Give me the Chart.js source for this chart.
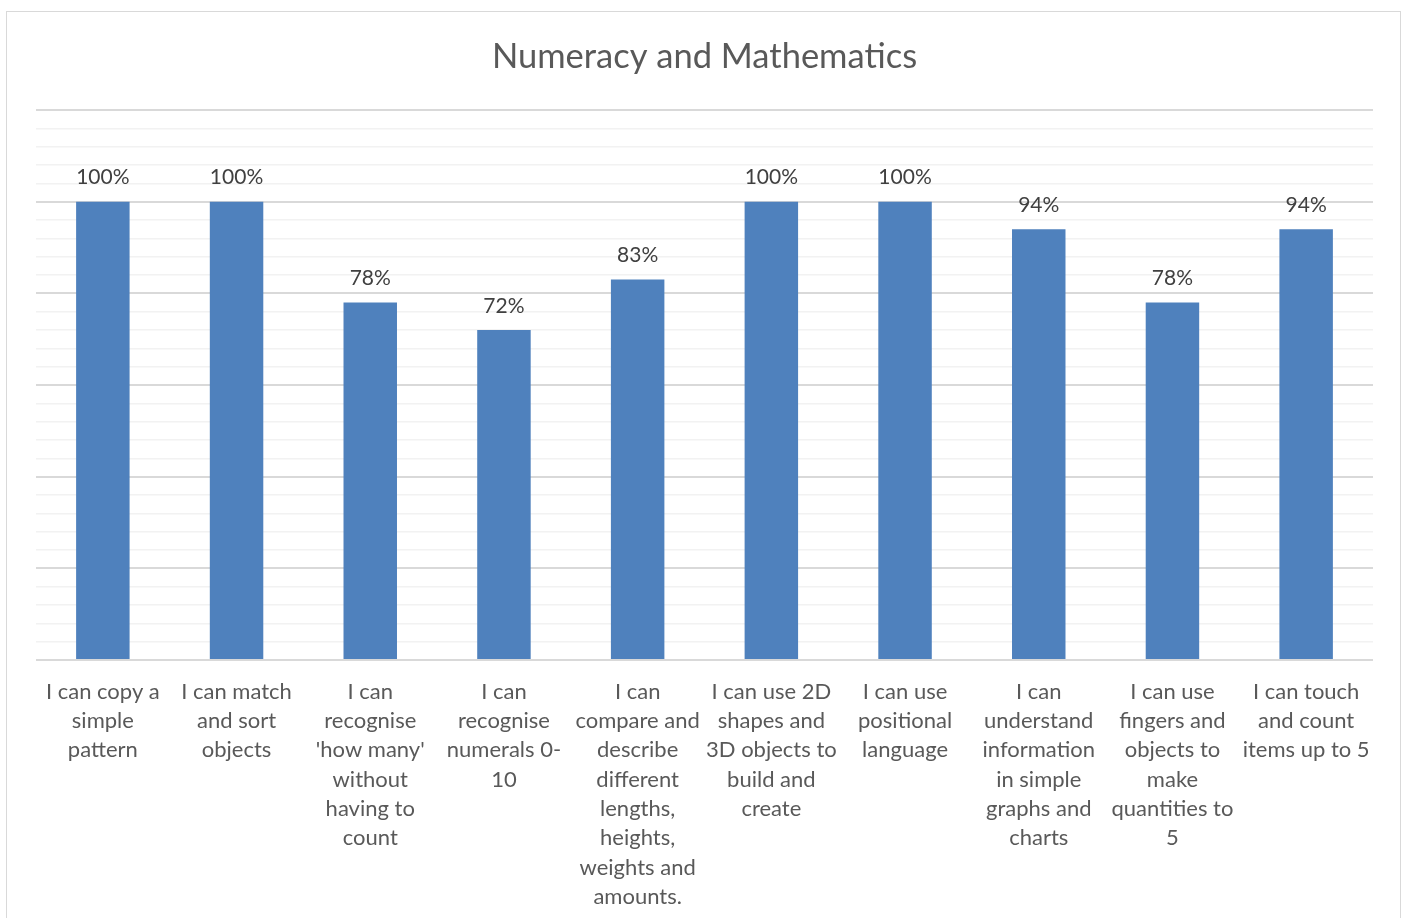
<!DOCTYPE html>
<html>
<head>
<meta charset="utf-8">
<script src="https://cdn.jsdelivr.net/npm/chart.js@4/dist/chart.umd.min.js"></script>
<style>
  html, body { margin: 0; padding: 0; background: #ffffff; }
  #wrap { position: relative; width: 1408px; height: 918px; overflow: hidden; background: #fff; }
  #frame { position: absolute; left: 6px; top: 11px; width: 1395px; height: 940px; border: 1px solid #d9d9d9; box-sizing: border-box; }
  #c { position: absolute; left: 0; top: 0; }
</style>
</head>
<body>
<div id="wrap">
  <div id="frame"></div>
  <canvas id="c" width="1408" height="918"></canvas>
</div>
<script>
const chartTitle = "Numeracy and Mathematics";
const categories = [
  ["I can copy a", "simple", "pattern"],
  ["I can match", "and sort", "objects"],
  ["I can", "recognise", "'how many'", "without", "having to", "count"],
  ["I can", "recognise", "numerals 0-", "10"],
  ["I can", "compare and", "describe", "different", "lengths,", "heights,", "weights and", "amounts."],
  ["I can use 2D", "shapes and", "3D objects to", "build and", "create"],
  ["I can use", "positional", "language"],
  ["I can", "understand", "information", "in simple", "graphs and", "charts"],
  ["I can use", "fingers and", "objects to", "make", "quantities to", "5"],
  ["I can touch", "and count", "items up to 5"]
];
const values = [100, 100, 78, 72, 83, 100, 100, 94, 78, 94];
const yMin = 0, yMax = 120, yMinorStep = 4, yMajorStep = 20;

const FONT = "Lato, 'Open Sans', sans-serif";

const valueLabels = {
  id: 'valueLabels',
  afterDatasetsDraw(chart) {
    const ctx = chart.ctx;
    const meta = chart.getDatasetMeta(0);
    ctx.save();
    ctx.font = "21px " + FONT;
    ctx.fillStyle = "#404040";
    ctx.textAlign = "center";
    ctx.textBaseline = "middle";
    meta.data.forEach((bar, i) => {
      ctx.fillText(Math.round(values[i]) + "%", bar.x, bar.y - 24);
    });
    ctx.restore();
  }
};

new Chart(document.getElementById('c'), {
  type: 'bar',
  data: {
    labels: categories,
    datasets: [{
      data: values,
      backgroundColor: '#4f81bd',
      borderWidth: 0,
      categoryPercentage: 1.0,
      barPercentage: 0.4
    }]
  },
  options: {
    responsive: false,
    animation: false,
    devicePixelRatio: 1,
    layout: { padding: { top: 0, left: 36, right: 35, bottom: 0 } },
    plugins: {
      legend: { display: false },
      tooltip: { enabled: false },
      title: {
        display: true,
        text: chartTitle,
        color: '#595959',
        font: { family: FONT, size: 34.5, weight: 'normal', lineHeight: 1.2 },
        padding: { top: 36.3, bottom: 32.3 }
      }
    },
    scales: {
      x: {
        grid: { display: false, drawTicks: false },
        border: { display: false },
        ticks: {
          color: '#595959',
          font: { family: FONT, size: 22, lineHeight: 1.333 },
          padding: 17,
          maxRotation: 0,
          minRotation: 0,
          autoSkip: false
        },
        afterFit(scale) { scale.height = 258; }
      },
      y: {
        min: yMin,
        max: yMax,
        ticks: { display: false, stepSize: yMinorStep },
        border: { display: false },
        grid: {
          drawTicks: false,
          color: (c) => (c.tick && c.tick.value % yMajorStep === 0) ? '#d9d9d9' : '#f2f2f2',
          lineWidth: (c) => (c.tick && c.tick.value % yMajorStep === 0) ? 2 : 1.5
        },
        afterFit(scale) { scale.width = 0; }
      }
    }
  },
  plugins: [valueLabels]
});
</script>
</body>
</html>
